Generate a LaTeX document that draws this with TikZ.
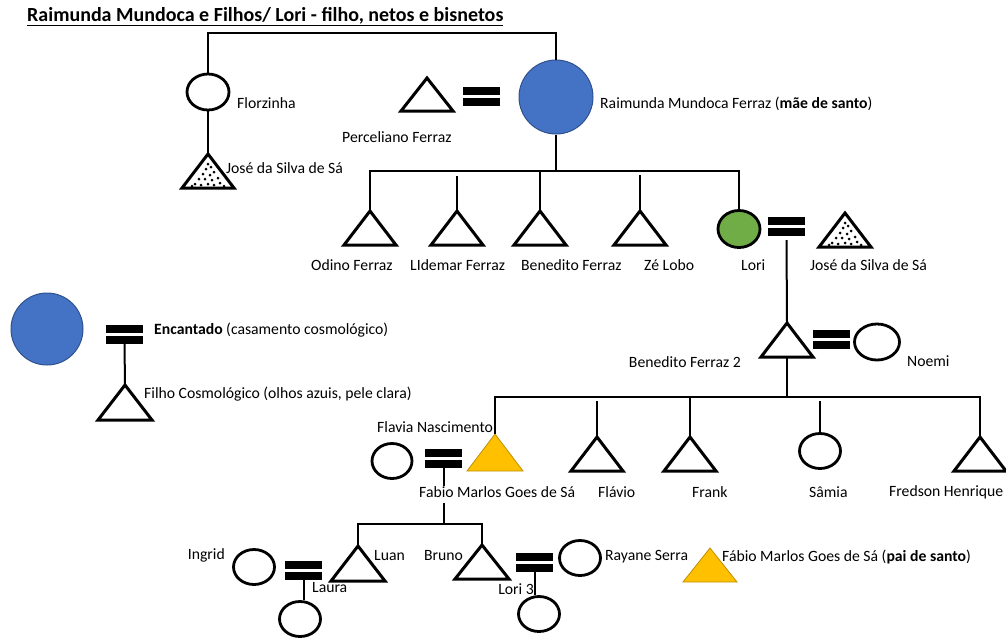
\documentclass[tikz,border=0pt]{standalone}
\usepackage{fontspec}
\setmainfont{Carlito}
\usetikzlibrary{shapes.geometric}
\definecolor{cblue}{HTML}{4472C4}
\definecolor{cblueD}{HTML}{2F528F}
\definecolor{cgreen}{HTML}{70AD47}
\definecolor{cyellow}{HTML}{FFC000}
\definecolor{cyellowD}{HTML}{BF9000}
\tikzset{
  lbl/.style={font=\fontsize{15.7}{18}\selectfont, inner sep=0pt},
  ttl/.style={font=\fontsize{20}{24}\selectfont\bfseries, inner sep=0pt},
  link/.style={line width=2pt},
  fem/.style={ellipse, draw, line width=2.8pt, minimum width=41pt, minimum height=35pt, inner sep=0pt},
  outl/.style={draw, line width=3pt, line join=miter},
  yel/.style={fill=cyellow, draw=cyellowD, line width=0.8pt},
  bluec/.style={circle, fill=cblue, draw=cblueD, line width=1pt, inner sep=0pt},
}
% name, x, y (apex), half width, height, style
\newcommand\mytri[6]{%
  \coordinate (#1) at (#2,#3);
  \coordinate (#1-b) at (#2,#3+#5);
  \draw[#6] (#1) -- ++(#4,#5) -- ++(-2*#4,0) -- cycle;
}
% name, x left, y top
\newcommand\myeq[3]{%
  \fill (#2,#3) rectangle ++(37,8);
  \fill (#2,#3+11) rectangle ++(37,8);
  \coordinate (#1) at (#2+18.5,#3+19);
}
\newcommand\mydots[1]{%
  \foreach \dx/\dy in {0/10,-2/15,3/13,-5/20,2/21,6/18,-9/25,-3/25,4/26,10/24,-13/30,-7/31,0/30,6/31,12/29,-16/32,16/32}
    {\fill (#1) ++(\dx,\dy) circle (1.5);}
}
\begin{document}
\begin{tikzpicture}[x=1pt,y=-1pt]
\useasboundingbox (0,0) rectangle (1006,641);
% title
\node[ttl, anchor=base west] (title) at (27,21) {\underline{Raimunda Mundoca e Filhos/ Lori - filho, netos e bisnetos}};

% generation 1
\node[fem, minimum width=42pt, minimum height=36pt] (flor) at (208,92) {};
\node[lbl, anchor=west] (florL) at (237,103) {Florzinha};
\mytri{jose1}{208}{154}{26}{34}{outl}
\mydots{jose1}
\node[lbl, anchor=west] (jose1L) at (226,168) {José da Silva de Sá};
\draw[link] (flor.south) -- (jose1);

\mytri{perc}{427}{78}{26}{33}{outl}
\node[lbl, anchor=west] (percL) at (342,137) {Perceliano Ferraz};
\myeq{eq1}{463}{87}
\node[bluec, minimum size=74pt] (rai) at (556,97) {};
\node[lbl, anchor=west] (raiL) at (600,104) {Raimunda Mundoca Ferraz (\textbf{mãe de santo})};
\draw[link] (flor.north) |- (rai.north |- 0,33) -- (rai.north);

% generation 2
\mytri{odino}{370}{211}{26}{34}{outl}
\mytri{lid}{457}{211}{26}{34}{outl}
\mytri{bene}{540}{211}{26}{34}{outl}
\mytri{ze}{640}{211}{26}{34}{outl}
\node[fem, fill=cgreen, minimum width=42pt, minimum height=37pt] (lori) at (739,229) {};
\myeq{eq2}{768}{217}
\mytri{jose2}{845}{213}{26}{34}{outl}
\mydots{jose2}
\coordinate (bus1) at (556,171);
\draw[link] (rai.south) -- (bus1);
\draw[link] (odino) -- (odino |- bus1) -- (lori.north |- bus1) -- (lori.north);
\draw[link] (lid |- 0,176) -- (lid);
\draw[link] (bene |- bus1) -- (bene);
\draw[link] (ze |- 0,175) -- (ze);
\node[lbl, anchor=west] (odinoL) at (311,265) {Odino Ferraz};
\node[lbl, anchor=west] (lidL) at (410,265) {LIdemar Ferraz};
\node[lbl, anchor=west] (beneL) at (521,265) {Benedito Ferraz};
\node[lbl, anchor=west] (zeL) at (644,265) {Zé Lobo};
\node[lbl, anchor=west] (loriL) at (741,265) {Lori};
\node[lbl, anchor=west] (jose2L) at (810,265) {José da Silva de Sá};

% generation 3
\mytri{ben2}{787}{323}{26}{34}{outl}
\draw[link] ([yshift=-4pt]eq2) -- (ben2);
\myeq{eq3}{813}{330}
\node[fem, minimum width=45pt, minimum height=36pt] (noemi) at (877,342) {};
\node[lbl, anchor=east] (ben2L) at (741,362) {Benedito Ferraz 2};
\node[lbl, anchor=west] (noemiL) at (907,361) {Noemi};

% generation 4
\coordinate (bus2) at (787,397);
\draw[link] (ben2-b) -- (bus2);
\mytri{fabio}{495}{434}{28}{37}{yel}
\mytri{flavio}{597}{437}{26}{34}{outl}
\mytri{frank}{690}{437}{26}{34}{outl}
\node[fem] (samia) at (820,451) {};
\mytri{fred}{980}{437}{26}{34}{outl}
\draw[link] (fabio) -- (fabio |- bus2) -- (fred |- bus2) -- (fred);
\draw[link] (flavio |- 0,401) -- (flavio);
\draw[link] (frank |- bus2) -- (frank);
\draw[link] (samia.north |- 0,401) -- (samia.north);
\node[fem, minimum width=40pt] (flavia) at (392,461) {};
\node[lbl, anchor=west] (flaviaL) at (377,427) {Flavia Nascimento};
\myeq{eq4}{425}{449}
\node[lbl, anchor=west] (fabioL) at (419,492) {Fabio Marlos Goes de Sá};
\node[lbl, anchor=west] (flavioL) at (598,492) {Flávio};
\node[lbl, anchor=west] (frankL) at (692,492) {Frank};
\node[lbl, anchor=west] (samiaL) at (809,492) {Sâmia};
\node[lbl, anchor=west] (fredL) at (889,492) {Fredson Henrique};

% generation 5
\coordinate (eq4a) at (443.5,486);
\coordinate (eq4b) at (443.5,503);
\coordinate (bus3) at (443.5,524);
\draw[link] (eq4) -- (eq4a);
\draw[link] (eq4b) -- (bus3);
\mytri{luan}{358}{546}{27}{35}{outl}
\mytri{bruno}{482}{545}{27}{34}{outl}
\draw[link] (luan) -- (luan |- bus3) -- (bruno |- bus3) -- (bruno);
\node[lbl, anchor=west] (luanL) at (374,556) {Luan};
\node[lbl, anchor=east] (brunoL) at (463,556) {Bruno};

\node[fem] (ingrid) at (254,567) {};
\node[lbl, anchor=east] (ingridL) at (225,555) {Ingrid};
\myeq{eq5}{285}{561}
\node[fem] (laura) at (300,619) {};
\draw[link] (eq5) -- (laura.north -| eq5);
\node[lbl, anchor=west] (lauraL) at (312,588) {Laura};

\myeq{eq6}{516}{553}
\node[fem] (rayane) at (580,558) {};
\node[lbl, anchor=west] (rayaneL) at (605,557) {Rayane Serra};
\node[fem] (lori3) at (539,614) {};
\draw[link] (eq6) -- (lori3.north -| eq6);
\node[lbl, anchor=east] (lori3L) at (534,589) {Lori 3};

\mytri{fabps}{710}{548}{27}{34}{yel}
\node[lbl, anchor=west] (fabpsL) at (722,557) {Fábio Marlos Goes de Sá (\textbf{pai de santo})};

% cosmological marriage
\node[bluec, minimum size=72pt] (enc) at (47,329) {};
\myeq{eq7}{106}{325}
\node[lbl, anchor=west] (encL) at (154,330) {\textbf{Encantado} (casamento cosmológico)};
\mytri{filho}{125}{385}{27}{35}{outl}
\draw[link] (eq7) -- (filho);
\node[lbl, anchor=west] (filhoL) at (144,394) {Filho Cosmológico (olhos azuis, pele clara)};
\end{tikzpicture}
\end{document}
